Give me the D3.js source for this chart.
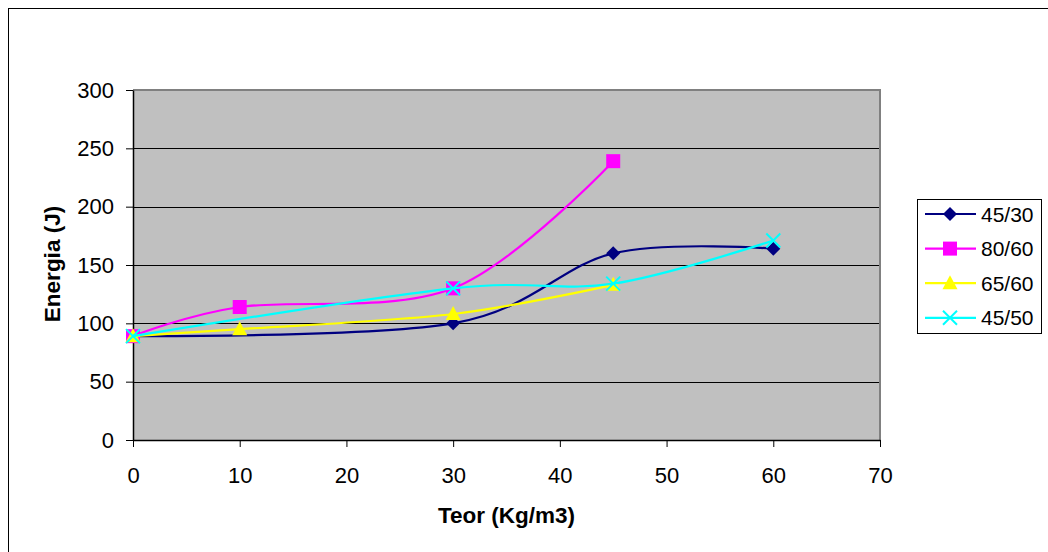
<!DOCTYPE html>
<html><head><meta charset="utf-8">
<script src="https://cdn.jsdelivr.net/npm/d3@7"></script>
<style>body{margin:0;background:#fff}svg{display:block;font-family:"Liberation Sans",Arial,sans-serif}</style>
</head><body>
<svg id="c" width="1048" height="552"></svg>
<script>
const seriesNames = ["45/30", "80/60", "65/60", "45/50"];
const xs_4530 = [0, 30, 45, 60];
const ys_4530 = [89, 100, 160, 164];
const xs_8060 = [0, 10, 30, 45];
const ys_8060 = [89, 114, 130, 239];
const xs_6560 = [0, 10, 30, 45];
const ys_6560 = [89, 95, 108, 133];
const xs_4550 = [0, 30, 45, 60];
const ys_4550 = [89, 130, 134, 171];
const xTicks = [0, 10, 20, 30, 40, 50, 60, 70];
const yTicks = [0, 50, 100, 150, 200, 250, 300];
const xTitle = "Teor (Kg/m3)";
const yTitle = "Energia (J)";

const colors = ["#000080", "#FF00FF", "#FFFF00", "#00FFFF"];
const shapes = ["diamond", "square", "triangle", "x"];
const allX = [xs_4530, xs_8060, xs_6560, xs_4550];
const allY = [ys_4530, ys_8060, ys_6560, ys_4550];
const series = seriesNames.map((n, i) => ({name: n, color: colors[i], shape: shapes[i],
  pts: allX[i].map((x, j) => ({x, y: allY[i][j]}))}));

const svg = d3.select("#c");
const L = 133, R = 880, T = 90, B = 440;
const x = d3.scaleLinear().domain([0, 70]).range([L, R]);
const y = d3.scaleLinear().domain([0, 300]).range([B, T]);

// outer frame
svg.append("rect").attr("x", 8.5).attr("y", 8.5).attr("width", 1100).attr("height", 600)
  .attr("fill", "none").attr("stroke", "#000").attr("stroke-width", 1);

// plot area
svg.append("rect").attr("x", L).attr("y", T).attr("width", R - L).attr("height", B - T)
  .attr("fill", "#C0C0C0");
svg.append("g").selectAll("line").data(yTicks.filter(d => d > 0 && d < 300)).join("line")
  .attr("x1", L).attr("x2", R).attr("y1", d => Math.round(y(d)) + 0.5).attr("y2", d => Math.round(y(d)) + 0.5)
  .attr("stroke", "#000").attr("stroke-width", 1);
svg.append("path").attr("d", `M${L},${T}H${R}V${B}`).attr("fill", "none")
  .attr("stroke", "#808080").attr("stroke-width", 2);

// axes
const xa = svg.append("g").attr("transform", `translate(0,${B})`)
  .call(d3.axisBottom(x).tickValues(xTicks).tickSize(7).tickPadding(20).tickSizeOuter(0));
const ya = svg.append("g").attr("transform", `translate(${L},0)`)
  .call(d3.axisLeft(y).tickValues(yTicks).tickSize(7).tickPadding(12).tickSizeOuter(0));
[xa, ya].forEach(a => {
  a.select(".domain").attr("stroke", "#000").attr("stroke-width", 1.5);
  a.selectAll(".tick line").attr("stroke", "#000");
  a.selectAll("text").attr("font-size", 22).attr("fill", "#000").attr("font-family", "Liberation Sans, Arial, sans-serif");
});

svg.append("text").attr("x", (L + R) / 2).attr("y", 523).attr("text-anchor", "middle")
  .attr("font-size", 22.5).attr("font-weight", "bold").text(xTitle);
svg.append("text").attr("transform", `translate(60,264) rotate(-90)`).attr("text-anchor", "middle")
  .attr("font-size", 22.5).attr("font-weight", "bold").text(yTitle);

function marker(g, shape, color, cx, cy) {
  if (shape === "diamond") {
    g.append("path").attr("d", `M${cx},${cy - 7}L${cx + 7},${cy}L${cx},${cy + 7}L${cx - 7},${cy}Z`).attr("fill", color);
  } else if (shape === "square") {
    g.append("rect").attr("x", cx - 7).attr("y", cy - 7).attr("width", 14).attr("height", 14).attr("fill", color);
  } else if (shape === "triangle") {
    g.append("path").attr("d", `M${cx},${cy - 8}L${cx + 7.5},${cy + 6}L${cx - 7.5},${cy + 6}Z`).attr("fill", color);
  } else {
    g.append("path").attr("d", `M${cx - 7},${cy - 7}L${cx + 7},${cy + 7}M${cx - 7},${cy + 7}L${cx + 7},${cy - 7}`)
      .attr("stroke", color).attr("stroke-width", 2).attr("fill", "none");
  }
}

const line = d3.line().x(d => x(d.x)).y(d => y(d.y)).curve(d3.curveCatmullRom.alpha(0));
series.forEach(s => {
  const g = svg.append("g");
  g.append("path").attr("d", line(s.pts)).attr("fill", "none").attr("stroke", s.color).attr("stroke-width", 2.2);
  s.pts.forEach(p => marker(g, s.shape, s.color, x(p.x), y(p.y)));
});

// legend
const lg = svg.append("g");
lg.append("rect").attr("x", 917.5).attr("y", 199.5).attr("width", 124).attr("height", 134)
  .attr("fill", "#fff").attr("stroke", "#000").attr("stroke-width", 1);
series.forEach((s, i) => {
  const cy = 214 + i * 34.6;
  lg.append("line").attr("x1", 925).attr("x2", 976).attr("y1", cy).attr("y2", cy)
    .attr("stroke", s.color).attr("stroke-width", 2.2);
  marker(lg, s.shape, s.color, 950, cy);
  lg.append("text").attr("x", 981).attr("y", cy + 7.5).attr("font-size", 21).text(s.name);
});
</script>
</body></html>
